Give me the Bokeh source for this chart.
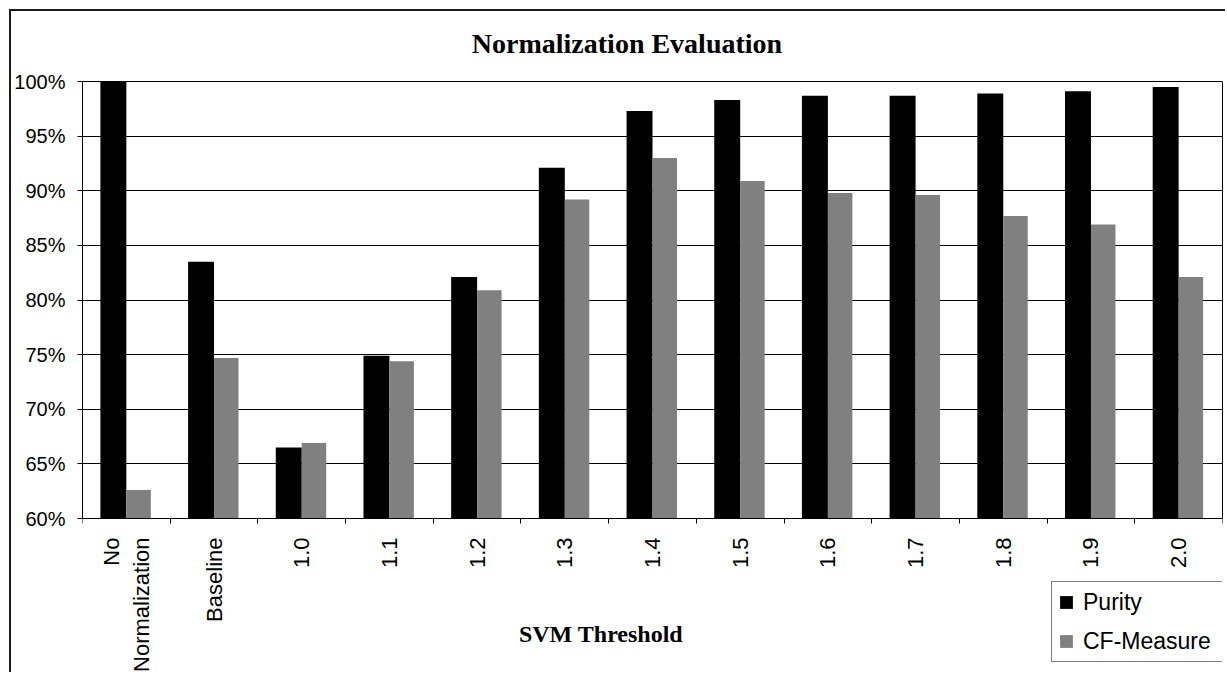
import math
from bokeh.plotting import figure
from bokeh.models import (ColumnDataSource, FactorRange, Range1d, LinearAxis, CategoricalAxis,
                          FixedTicker, PrintfTickFormatter, Legend, LegendItem, Label,
                          CustomJSTickFormatter)
from bokeh.transform import dodge
from bokeh.embed import file_html
from bokeh.resources import INLINE

# ---- data ----
categories = ["No\nNormalization", "Baseline", "1.0", "1.1", "1.2", "1.3", "1.4",
              "1.5", "1.6", "1.7", "1.8", "1.9", "2.0"]
purity = [100.0, 83.5, 66.5, 74.9, 82.1, 92.1, 97.3, 98.3, 98.7, 98.7, 98.9, 99.1, 99.5]
cf_measure = [62.6, 74.7, 66.9, 74.4, 80.9, 89.2, 93.0, 90.9, 89.8, 89.6, 87.7, 86.9, 82.1]
y_ticks = [60, 65, 70, 75, 80, 85, 90, 95, 100]
title_text = "Normalization Evaluation"
x_title = "SVM Threshold"
series_names = ["Purity", "CF-Measure"]

SANS = "Liberation Sans"
SERIF = "Liberation Serif"

y_start, y_end = y_ticks[0], y_ticks[-1]

# ---- layout (pixels) ----
W, H = 1216, 663
BORDER_L, BORDER_R = 70, 5
PLOT_TOP_PX, PLOT_BOTTOM_PX = 70, 507      # 100% and 60% lines, from figure top
px_per_unit = (PLOT_BOTTOM_PX - PLOT_TOP_PX) / (y_end - y_start)
view_top = y_end + PLOT_TOP_PX / px_per_unit
view_bottom = y_start - (H - PLOT_BOTTOM_PX) / px_per_unit

source = ColumnDataSource(data=dict(cat=categories, purity=purity, cf=cf_measure))

p = figure(x_range=FactorRange(*categories, range_padding=0),
           y_range=Range1d(view_bottom, view_top),
           width=W, height=H,
           min_border_left=BORDER_L, min_border_top=0, min_border_right=BORDER_R,
           min_border_bottom=0,
           x_axis_location=None, output_backend="svg", toolbar_location=None,
           background_fill_color="white", border_fill_color="white")
p.title.visible = False
p.styles = {"margin-left": "9px", "margin-top": "9px",
            "border-left": "2px solid #1a1a1a", "border-top": "2px solid #1a1a1a"}
p.outline_line_color = None

# bars
r1 = p.vbar(x=dodge("cat", -0.148, range=p.x_range), top="purity", bottom=y_start,
            width=0.296, source=source, fill_color="#000000", line_color=None)
r2 = p.vbar(x=dodge("cat", 0.1396, range=p.x_range), top="cf", bottom=y_start,
            width=0.279, source=source, fill_color="#808080", line_color=None)

# y axis
ya = p.yaxis[0]
ya.bounds = (y_start, y_end)
ya.ticker = FixedTicker(ticks=y_ticks)
ya.formatter = PrintfTickFormatter(format="%d%%")
ya.axis_line_color = "black"
ya.major_tick_line_color = "black"
ya.major_tick_in = 0
ya.major_tick_out = 5
ya.minor_tick_line_color = None
ya.major_label_standoff = 12
ya.major_label_text_font = SANS
ya.major_label_text_font_size = "20px"
ya.major_label_text_color = "black"

# right edge of plot area
right_axis = LinearAxis(bounds=(y_start, y_end), ticker=FixedTicker(ticks=[]),
                        axis_line_color="black", major_tick_line_color=None,
                        minor_tick_line_color=None)
p.add_layout(right_axis, "right")

p.ygrid.ticker = FixedTicker(ticks=y_ticks)
p.ygrid.grid_line_color = "black"
p.ygrid.grid_line_width = 1
p.xgrid.grid_line_color = None

# category axis line with ticks between categories
tick_axis = LinearAxis(fixed_location=y_start,
                       ticker=FixedTicker(ticks=list(range(len(categories) + 1))),
                       formatter=CustomJSTickFormatter(code="return ''"),
                       axis_line_color="black", major_tick_line_color="black",
                       major_tick_in=0, major_tick_out=5, minor_tick_line_color=None,
                       major_label_standoff=0)
p.add_layout(tick_axis, "below")

cat_axis = CategoricalAxis(fixed_location=y_start,
                           axis_line_color=None, major_tick_line_color=None,
                           major_tick_in=0, major_tick_out=0,
                           major_label_orientation=math.pi / 2, major_label_standoff=19,
                           major_label_text_font=SANS, major_label_text_font_size="22px",
                           major_label_text_color="black")
p.add_layout(cat_axis, "below")

# titles
p.add_layout(Label(x=6.209, y=103.45, text=title_text, text_align="center",
                   text_baseline="middle", text_font=SERIF, text_font_style="bold",
                   text_font_size="28px", text_color="black"))
p.add_layout(Label(x=5.913, y=49.45, text=x_title, text_align="center",
                   text_baseline="middle", text_font=SERIF, text_font_style="bold",
                   text_font_size="24px", text_color="black"))

# legend
legend = Legend(items=[LegendItem(label=series_names[0], renderers=[r1]),
                       LegendItem(label=series_names[1], renderers=[r2])],
                location=(969, 12), orientation="vertical",
                glyph_width=16, glyph_height=16, label_height=28, label_width=134,
                label_standoff=9, spacing=11, padding=6, margin=0,
                label_text_font=SANS, label_text_font_size="23px", label_text_color="black",
                border_line_color="black", border_line_width=1,
                background_fill_color="white", background_fill_alpha=1.0)
p.add_layout(legend, "center")

open("out.html", "w").write(file_html(p, INLINE))
